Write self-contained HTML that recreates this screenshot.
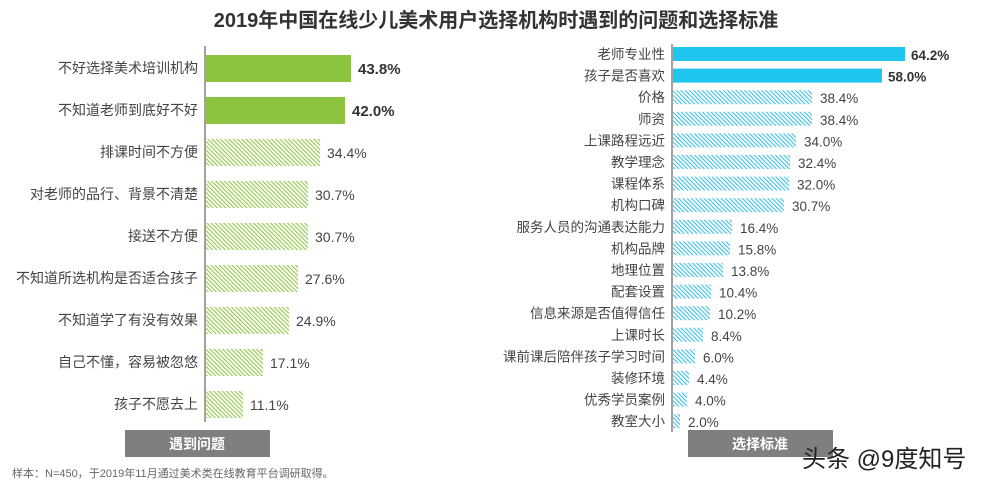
<!DOCTYPE html>
<html><head><meta charset="utf-8"><style>
body{margin:0;background:#fff;width:993px;height:484px;overflow:hidden;font-family:"Liberation Sans","Noto Sans CJK SC",sans-serif}
</style></head><body>
<svg width="993" height="484" xmlns="http://www.w3.org/2000/svg" font-family="Liberation Sans, Noto Sans CJK SC, sans-serif">
<defs>
<pattern id="pg" width="3" height="3" patternUnits="userSpaceOnUse" patternTransform="rotate(-45)"><rect width="3" height="3" fill="#fff"/><rect width="1.2" height="3" fill="#9acb55"/></pattern>
<pattern id="pb" width="3" height="3" patternUnits="userSpaceOnUse" patternTransform="rotate(-45)"><rect width="3" height="3" fill="#fff"/><rect width="1.2" height="3" fill="#4cc4e4"/></pattern>
</defs>
<text x="496" y="27" text-anchor="middle" font-size="20" font-weight="bold" fill="#333">2019年中国在线少儿美术用户选择机构时遇到的问题和选择标准</text>
<line x1="205" y1="46" x2="205" y2="422" stroke="#444" stroke-width="1"/>
<g font-size="14" fill="#444">
<rect x="206" y="55" width="145" height="27" fill="#8cc43f"/><text x="198" y="73" text-anchor="end">不好选择美术培训机构</text><text x="358" y="74" font-weight="bold" font-size="15" fill="#333">43.8%</text>
<rect x="206" y="97" width="139" height="27" fill="#8cc43f"/><text x="198" y="115" text-anchor="end">不知道老师到底好不好</text><text x="352" y="116" font-weight="bold" font-size="15" fill="#333">42.0%</text>
<rect x="206" y="139" width="114" height="27" fill="url(#pg)"/><text x="198" y="157" text-anchor="end">排课时间不方便</text><text x="327" y="158">34.4%</text>
<rect x="206" y="181" width="102" height="27" fill="url(#pg)"/><text x="198" y="199" text-anchor="end">对老师的品行、背景不清楚</text><text x="315" y="200">30.7%</text>
<rect x="206" y="223" width="102" height="27" fill="url(#pg)"/><text x="198" y="241" text-anchor="end">接送不方便</text><text x="315" y="242">30.7%</text>
<rect x="206" y="265" width="92" height="27" fill="url(#pg)"/><text x="198" y="283" text-anchor="end">不知道所选机构是否适合孩子</text><text x="305" y="284">27.6%</text>
<rect x="206" y="307" width="83" height="27" fill="url(#pg)"/><text x="198" y="325" text-anchor="end">不知道学了有没有效果</text><text x="296" y="326">24.9%</text>
<rect x="206" y="349" width="57" height="27" fill="url(#pg)"/><text x="198" y="367" text-anchor="end">自己不懂，容易被忽悠</text><text x="270" y="368">17.1%</text>
<rect x="206" y="391" width="37" height="27" fill="url(#pg)"/><text x="198" y="409" text-anchor="end">孩子不愿去上</text><text x="250" y="410">11.1%</text>
</g>
<line x1="672" y1="44" x2="672" y2="432" stroke="#444" stroke-width="1"/>
<g font-size="13.5" fill="#444">
<rect x="673" y="47" width="232" height="14" fill="#1ec6ef"/><text x="665" y="59" text-anchor="end">老师专业性</text><text x="911" y="60" font-weight="bold" fill="#333">64.2%</text>
<rect x="673" y="68.6" width="209" height="14" fill="#1ec6ef"/><text x="665" y="80.6" text-anchor="end">孩子是否喜欢</text><text x="888" y="81.6" font-weight="bold" fill="#333">58.0%</text>
<rect x="673" y="90.2" width="139" height="14" fill="url(#pb)"/><text x="665" y="102.2" text-anchor="end">价格</text><text x="820" y="103.2">38.4%</text>
<rect x="673" y="111.8" width="139" height="14" fill="url(#pb)"/><text x="665" y="123.8" text-anchor="end">师资</text><text x="820" y="124.8">38.4%</text>
<rect x="673" y="133.4" width="123" height="14" fill="url(#pb)"/><text x="665" y="145.4" text-anchor="end">上课路程远近</text><text x="804" y="146.4">34.0%</text>
<rect x="673" y="155" width="117" height="14" fill="url(#pb)"/><text x="665" y="167" text-anchor="end">教学理念</text><text x="798" y="168">32.4%</text>
<rect x="673" y="176.6" width="116" height="14" fill="url(#pb)"/><text x="665" y="188.6" text-anchor="end">课程体系</text><text x="797" y="189.6">32.0%</text>
<rect x="673" y="198.2" width="111" height="14" fill="url(#pb)"/><text x="665" y="210.2" text-anchor="end">机构口碑</text><text x="792" y="211.2">30.7%</text>
<rect x="673" y="219.8" width="59" height="14" fill="url(#pb)"/><text x="665" y="231.8" text-anchor="end">服务人员的沟通表达能力</text><text x="740" y="232.8">16.4%</text>
<rect x="673" y="241.4" width="57" height="14" fill="url(#pb)"/><text x="665" y="253.4" text-anchor="end">机构品牌</text><text x="738" y="254.4">15.8%</text>
<rect x="673" y="263" width="50" height="14" fill="url(#pb)"/><text x="665" y="275" text-anchor="end">地理位置</text><text x="731" y="276">13.8%</text>
<rect x="673" y="284.6" width="38" height="14" fill="url(#pb)"/><text x="665" y="296.6" text-anchor="end">配套设置</text><text x="719" y="297.6">10.4%</text>
<rect x="673" y="306.2" width="37" height="14" fill="url(#pb)"/><text x="665" y="318.2" text-anchor="end">信息来源是否值得信任</text><text x="718" y="319.2">10.2%</text>
<rect x="673" y="327.8" width="30" height="14" fill="url(#pb)"/><text x="665" y="339.8" text-anchor="end">上课时长</text><text x="711" y="340.8">8.4%</text>
<rect x="673" y="349.4" width="22" height="14" fill="url(#pb)"/><text x="665" y="361.4" text-anchor="end">课前课后陪伴孩子学习时间</text><text x="703" y="362.4">6.0%</text>
<rect x="673" y="371" width="16" height="14" fill="url(#pb)"/><text x="665" y="383" text-anchor="end">装修环境</text><text x="697" y="384">4.4%</text>
<rect x="673" y="392.6" width="14" height="14" fill="url(#pb)"/><text x="665" y="404.6" text-anchor="end">优秀学员案例</text><text x="695" y="405.6">4.0%</text>
<rect x="673" y="414.2" width="7" height="14" fill="url(#pb)"/><text x="665" y="426.2" text-anchor="end">教室大小</text><text x="688" y="427.2">2.0%</text>
</g>
<rect x="125" y="430" width="145" height="27" fill="#7f7f7f"/><text x="197" y="449" text-anchor="middle" font-size="14" font-weight="bold" fill="#fff">遇到问题</text>
<rect x="688" y="430" width="145" height="27" fill="#7f7f7f"/><text x="760" y="449" text-anchor="middle" font-size="14" font-weight="bold" fill="#fff">选择标准</text>
<text x="12" y="477" font-size="11" fill="#666">样本：N=450，于2019年11月通过美术类在线教育平台调研取得。</text>
<text x="802" y="467" font-size="24" fill="#222">头条 @9度知号</text>
</svg>
</body></html>
